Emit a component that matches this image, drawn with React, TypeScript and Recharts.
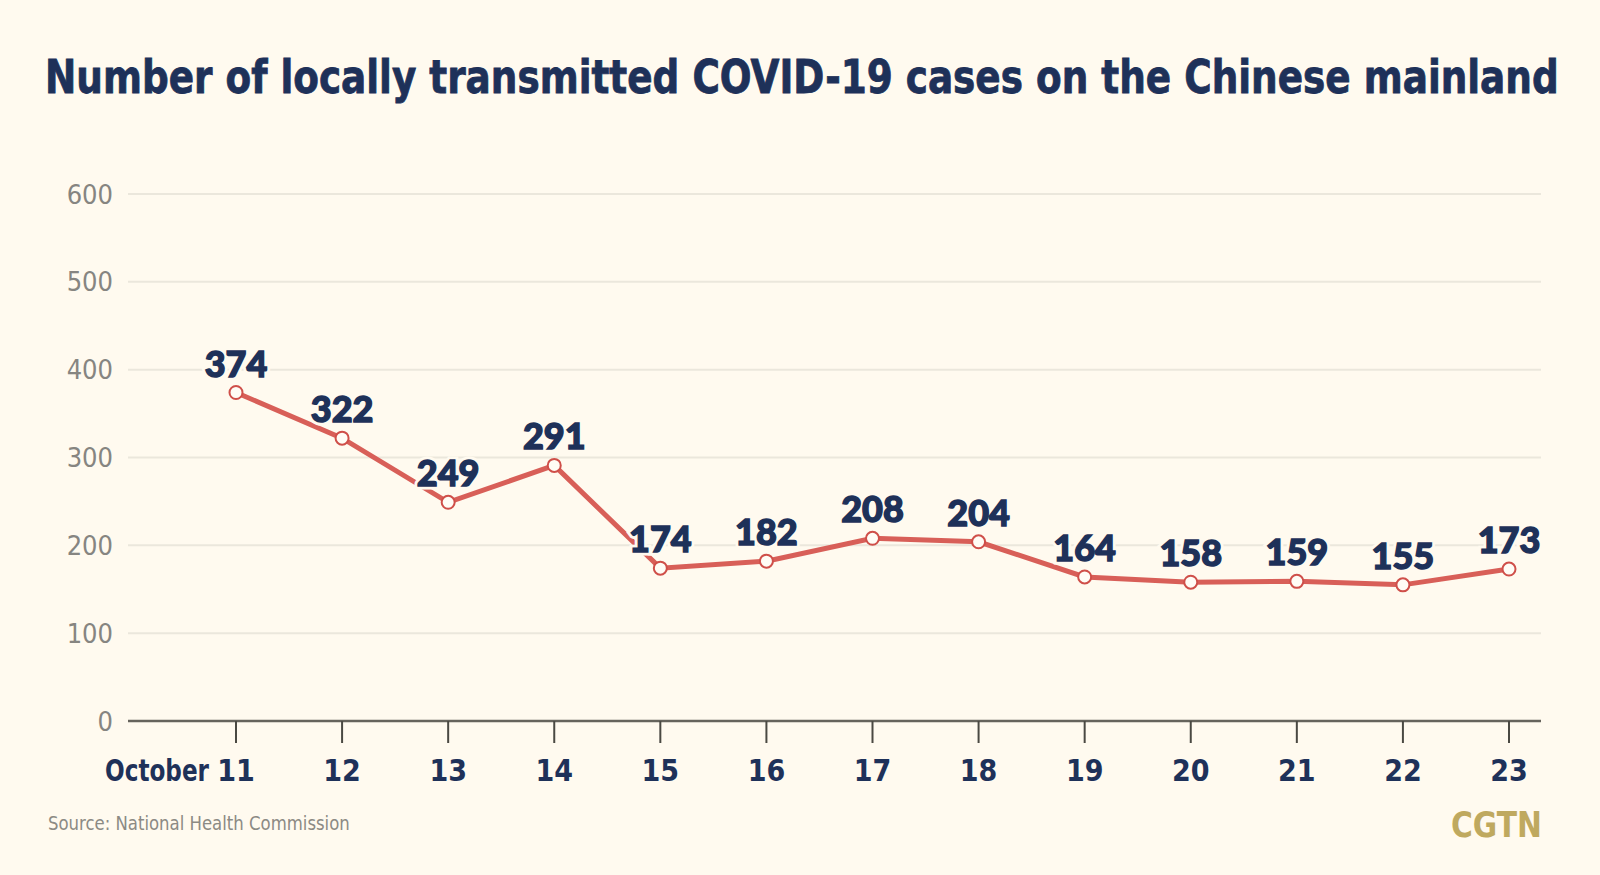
import { useLayoutEffect, useRef, useState } from "react";
import { LineChart, Line, XAxis, YAxis, CartesianGrid, LabelList } from "recharts";

// Oct 11 - Oct 23, locally transmitted cases
const days = ["11", "12", "13", "14", "15", "16", "17", "18", "19", "20", "21", "22", "23"];
const cases = [374, 322, 249, 291, 174, 182, 208, 204, 164, 158, 159, 155, 173];
const yTicks = [0, 100, 200, 300, 400, 500, 600];

const BG = "#FFFAEF";
const NAVY = "#1E3159";
const RED = "#D85F58";
const NARROW = '"DejaVu Sans Condensed", "Liberation Sans Narrow", Roboto, sans-serif';

const data = days.map((d, i) => ({ day: d, cases: cases[i] }));

// squeezes a text horizontally so it spans `width` px, anchored at x
function FitText({ x, y, width, anchor = "start", children, ...rest }: any) {
  const ref = useRef<SVGTextElement>(null);
  const [sx, setSx] = useState(1);
  useLayoutEffect(() => {
    if (ref.current) {
      const w = ref.current.getComputedTextLength();
      if (w > 0) setSx(width / w);
    }
  }, [width, children]);
  return (
    <g transform={`translate(${x},${y}) scale(${sx},1)`}>
      <text ref={ref} x={0} y={0} textAnchor={anchor} {...rest}>
        {children}
      </text>
    </g>
  );
}

function DayTick(props: any) {
  const { x, y, payload, index } = props;
  return (
    <g fill={NAVY} fontFamily={NARROW} fontWeight={700} fontSize={30}>
      <text x={x} y={y + 38} textAnchor="middle">
        {payload.value}
      </text>
      {index === 0 && (
        <FitText x={x - 27} y={y + 38} width={104} anchor="end" fontSize={31}>
          October
        </FitText>
      )}
    </g>
  );
}

function ValueLabel(props: any) {
  const x = props.x ?? props.viewBox?.x;
  const y = props.y ?? props.viewBox?.y;
  const common = {
    x,
    y: y - 16,
    textAnchor: "middle" as const,
    fontFamily: "Lato, Roboto, sans-serif",
    fontWeight: 900,
    fontSize: 36,
  };
  return (
    <g>
      <text {...common} fill={BG} stroke={BG} strokeWidth={7}>
        {props.value}
      </text>
      <text {...common} fill={NAVY} stroke={NAVY} strokeWidth={1.4}>
        {props.value}
      </text>
    </g>
  );
}

export default function App() {
  return (
    <div style={{ position: "fixed", left: 0, top: 0, width: 1600, height: 875, background: BG }}>
      <svg width={1600} height={875} style={{ position: "absolute", left: 0, top: 0 }}>
        <FitText x={45} y={93} width={1514} fill={NAVY} stroke={NAVY} strokeWidth={0.8} fontFamily={NARROW} fontWeight={700} fontSize={47}>
          Number of locally transmitted COVID-19 cases on the Chinese mainland
        </FitText>
        <FitText x={48} y={830} width={302} fill="#8C8A84" fontFamily={NARROW} fontSize={19}>
          Source: National Health Commission
        </FitText>
        <FitText x={1451} y={837} width={91} fill="#BFA95F" fontFamily={NARROW} fontWeight={700} fontSize={36}>
          CGTN
        </FitText>
      </svg>
      <div style={{ position: "absolute", left: 0, top: 0 }}>
        <LineChart width={1600} height={875} data={data} margin={{ top: 194, right: 59, bottom: 0, left: 68 }}>
          <CartesianGrid vertical={false} stroke="#EBE7DC" strokeWidth={2} />
          <YAxis
            width={60}
            domain={[0, 600]}
            ticks={yTicks}
            axisLine={false}
            tickLine={false}
            tickSize={0}
            tickMargin={15}
            tick={{ fill: "#868581", fontSize: 27, fontFamily: NARROW }}
          />
          <XAxis
            dataKey="day"
            height={154}
            padding={{ left: 108, right: 32 }}
            axisLine={{ stroke: "#66645C", strokeWidth: 2.5 }}
            tickLine={{ stroke: "#4A4942", strokeWidth: 2 }}
            tickSize={22}
            tickMargin={0}
            interval={0}
            tick={<DayTick />}
          />
          <Line
            dataKey="cases"
            stroke={RED}
            strokeWidth={5}
            isAnimationActive={false}
            dot={{ r: 6.5, fill: "#FFFCF5", stroke: "#CF4F49", strokeWidth: 2 }}
            activeDot={false}
          >
            <LabelList dataKey="cases" content={<ValueLabel />} />
          </Line>
        </LineChart>
      </div>
    </div>
  );
}
